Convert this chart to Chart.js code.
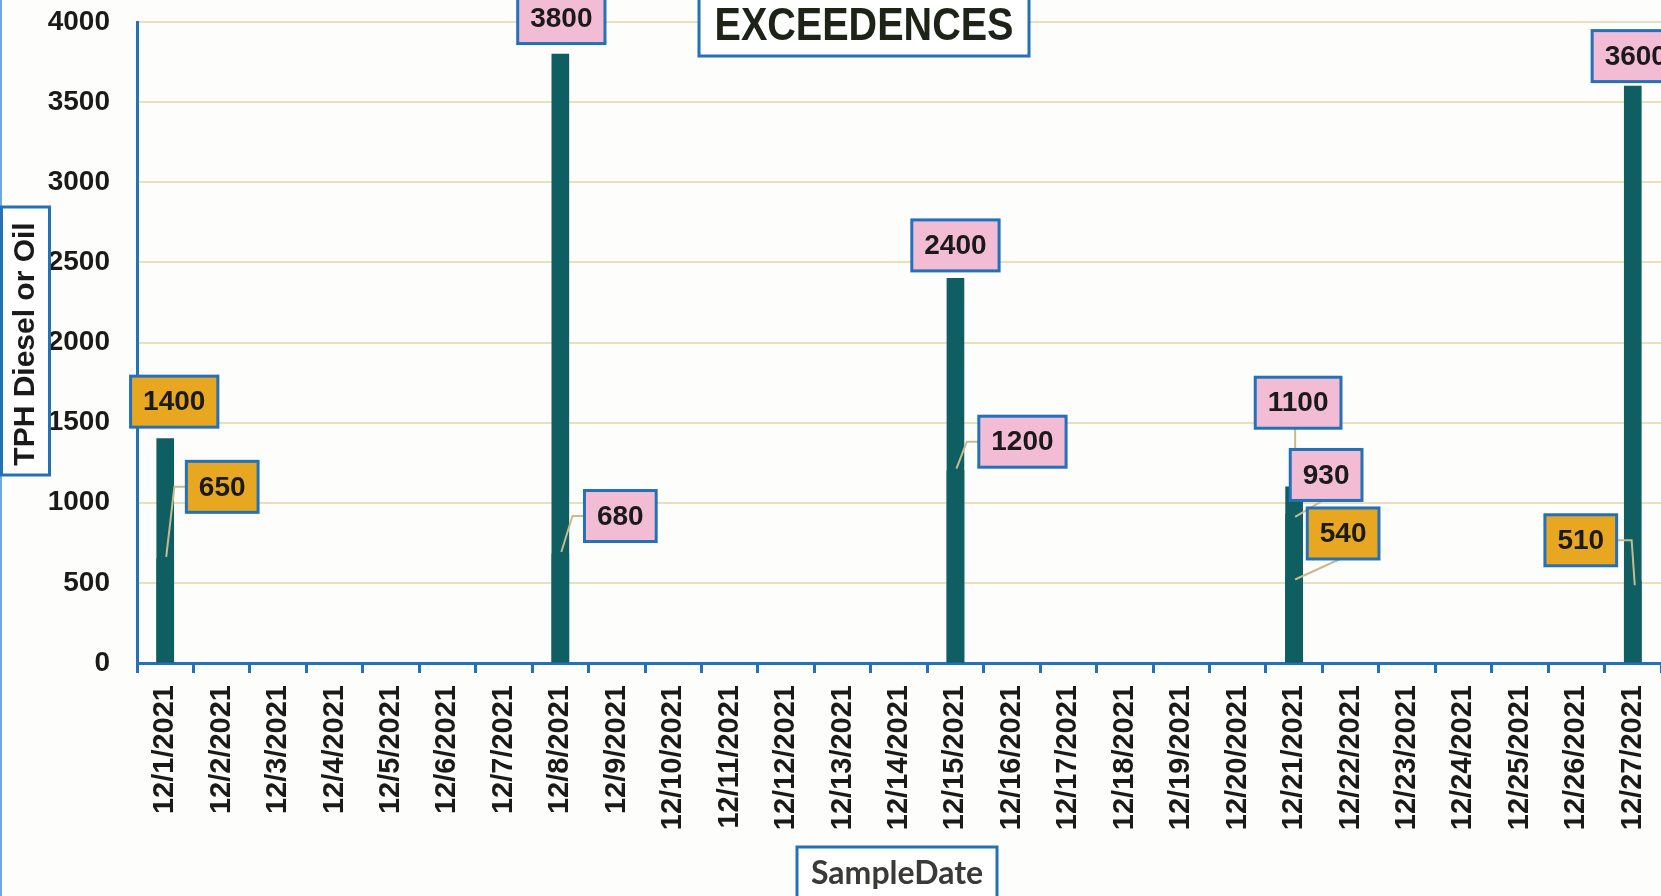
<!DOCTYPE html>
<html>
<head>
<meta charset="utf-8">
<title>EXCEEDENCES</title>
<script src="https://cdn.jsdelivr.net/npm/chart.js@4.4.1/dist/chart.umd.min.js"></script>
<style>
  html, body { margin: 0; padding: 0; background: #fdfdfc; overflow: hidden; }
  #wrap { position: relative; width: 1661px; height: 896px; }
</style>
</head>
<body>
<div id="wrap"><canvas id="chart" width="1661" height="896"></canvas></div>
<script>
// Category axis: one slot per calendar day
const sampleDates = [
  '12/1/2021', '12/2/2021', '12/3/2021', '12/4/2021', '12/5/2021', '12/6/2021',
  '12/7/2021', '12/8/2021', '12/9/2021', '12/10/2021', '12/11/2021', '12/12/2021',
  '12/13/2021', '12/14/2021', '12/15/2021', '12/16/2021', '12/17/2021', '12/18/2021',
  '12/19/2021', '12/20/2021', '12/21/2021', '12/22/2021', '12/23/2021', '12/24/2021',
  '12/25/2021', '12/26/2021', '12/27/2021'
];

// Value axis ticks
const yTicks = [0, 500, 1000, 1500, 2000, 2500, 3000, 3500, 4000];

// TPH Diesel results above the limit
const dieselDates  = ['12/1/2021', '12/1/2021', '12/21/2021', '12/27/2021'];
const dieselValues = [1400, 650, 540, 510];

// TPH Oil results above the limit
const oilDates  = ['12/8/2021', '12/8/2021', '12/15/2021', '12/15/2021', '12/21/2021', '12/21/2021', '12/27/2021'];
const oilValues = [3800, 680, 2400, 1200, 1100, 930, 3600];

const chartTitle = 'EXCEEDENCES';
const yTitle = 'TPH Diesel or Oil';
const xTitle = 'SampleDate';

// Callout placement (pixel offset of the label box centre from the bar top)
const dieselCallouts = [
  { dx: 9,   dy: -37 },
  { dx: 57,  dy: -72, leader: 'left' },
  { dx: 49,  dy: -43, leader: 'bottom' },
  { dx: -52, dy: -41, leader: 'right' }
];
const oilCallouts = [
  { dx: 1,  dy: -36 },
  { dx: 60, dy: -38, leader: 'left' },
  { dx: 0,  dy: -33 },
  { dx: 67, dy: -29, leader: 'left' },
  { dx: 4,  dy: -84, leader: 'bottom' },
  { dx: 32, dy: -39, leader: 'bottom' },
  { dx: 3,  dy: -30 }
];

const BLUE = '#2571b8';
const BAR = '#0e5e62';
const INK = '#1a1a1a';

function points(dates, values) {
  return dates.map((d, i) => ({ x: d, y: values[i] }));
}

// Value callouts with leader lines, drawn over the bars
const calloutPlugin = {
  id: 'callouts',
  afterDatasetsDraw(chart) {
    const ctx = chart.ctx;
    const boxes = [];
    ctx.save();
    ctx.font = 'bold 28px "Liberation Sans"';
    chart.data.datasets.forEach((ds, di) => {
      const meta = chart.getDatasetMeta(di);
      meta.data.forEach((bar, i) => {
        const lay = ds.callouts[i];
        const text = String(ds.data[i].y);
        const w = ctx.measureText(text).width + 25;
        const h = 51;
        const cx = bar.x + lay.dx;
        const cy = bar.y + lay.dy;
        boxes.push({ text, w, h, cx, cy, ax: bar.x, ay: bar.y, leader: lay.leader, fill: ds.calloutFill });
      });
    });
    // leader lines first so that boxes sit on top of them
    ctx.strokeStyle = '#c9b98c';
    ctx.lineWidth = 2;
    boxes.forEach(b => {
      if (!b.leader) return;
      const l = b.cx - b.w / 2, r = b.cx + b.w / 2, bot = b.cy + b.h / 2;
      ctx.beginPath();
      if (b.leader === 'left') {
        ctx.moveTo(l, b.cy); ctx.lineTo(l - 12, b.cy); ctx.lineTo(b.ax + 1, b.ay - 2);
      } else if (b.leader === 'right') {
        ctx.moveTo(r, b.cy); ctx.lineTo(r + 15, b.cy); ctx.lineTo(b.ax + 2, b.ay + 4);
      } else {
        ctx.moveTo(b.cx - 3, bot); ctx.lineTo(b.ax + 1, b.ay + 3);
      }
      ctx.stroke();
    });
    boxes.forEach(b => {
      const x = b.cx - b.w / 2, y = b.cy - b.h / 2;
      ctx.fillStyle = b.fill;
      ctx.fillRect(x, y, b.w, b.h);
      ctx.strokeStyle = BLUE;
      ctx.lineWidth = 3;
      ctx.strokeRect(x, y, b.w, b.h);
      ctx.fillStyle = INK;
      ctx.textAlign = 'center';
      ctx.textBaseline = 'middle';
      ctx.fillText(b.text, b.cx, b.cy + 1);
    });
    ctx.restore();
  }
};

// Framed chart title and axis titles
const framePlugin = {
  id: 'frames',
  afterDraw(chart) {
    const ctx = chart.ctx;
    ctx.save();
    // left page edge
    ctx.strokeStyle = '#6fa8de';
    ctx.lineWidth = 2;
    ctx.beginPath(); ctx.moveTo(1, 0); ctx.lineTo(1, 896); ctx.stroke();

    // chart title
    ctx.fillStyle = '#ffffff';
    ctx.fillRect(699, -6, 330, 62);
    ctx.strokeStyle = BLUE; ctx.lineWidth = 3;
    ctx.strokeRect(699, -6, 330, 62);
    ctx.save();
    ctx.translate(864, 40);
    ctx.scale(0.86, 1);
    ctx.font = 'bold 46px "Liberation Sans"';
    ctx.fillStyle = '#1d2317';
    ctx.textAlign = 'center';
    ctx.textBaseline = 'alphabetic';
    ctx.fillText(chartTitle, 0, 0);
    ctx.restore();

    // y axis title
    ctx.fillStyle = '#ffffff';
    ctx.fillRect(1.5, 207, 48, 268);
    ctx.strokeStyle = BLUE; ctx.lineWidth = 3;
    ctx.strokeRect(1.5, 207, 48, 268);
    ctx.save();
    ctx.translate(26, 344);
    ctx.rotate(-Math.PI / 2);
    ctx.font = 'bold 30px "Liberation Sans"';
    ctx.fillStyle = INK;
    ctx.textAlign = 'center';
    ctx.textBaseline = 'middle';
    ctx.fillText(yTitle, 0, 0);
    ctx.restore();

    // x axis title
    ctx.fillStyle = '#ffffff';
    ctx.fillRect(797, 847, 200, 56);
    ctx.strokeStyle = BLUE; ctx.lineWidth = 3;
    ctx.strokeRect(797, 847, 200, 56);
    ctx.font = 'bold 32px Lato';
    ctx.fillStyle = '#3a3a36';
    ctx.textAlign = 'center';
    ctx.textBaseline = 'alphabetic';
    ctx.fillText(xTitle, 897, 884);
    ctx.restore();
  }
};

new Chart(document.getElementById('chart'), {
  type: 'bar',
  data: {
    labels: sampleDates,
    datasets: [
      {
        label: 'TPH Diesel',
        data: points(dieselDates, dieselValues),
        backgroundColor: BAR,
        calloutFill: '#e8a721',
        callouts: dieselCallouts
      },
      {
        label: 'TPH Oil',
        data: points(oilDates, oilValues),
        backgroundColor: BAR,
        calloutFill: '#f2bcd4',
        callouts: oilCallouts
      }
    ]
  },
  options: {
    responsive: false,
    animation: false,
    events: [],
    layout: { padding: { top: 22, left: 0, right: 0, bottom: 0 } },
    datasets: { bar: { grouped: false, barThickness: 17 } },
    plugins: {
      legend: { display: false },
      title: { display: false },
      tooltip: { enabled: false }
    },
    scales: {
      x: {
        offset: true,
        afterFit(scale) {
          scale.height = 233;
          scale.paddingLeft = 0;
          scale.paddingRight = 0;
        },
        grid: {
          offset: true,
          drawOnChartArea: false,
          drawTicks: true,
          tickLength: 10,
          tickColor: BLUE,
          tickWidth: 3
        },
        border: { display: true, color: BLUE, width: 3 },
        ticks: {
          autoSkip: false,
          minRotation: 90,
          maxRotation: 90,
          padding: 12,
          color: INK,
          font: { family: '"Liberation Sans"', size: 29, weight: 'bold' }
        }
      },
      y: {
        min: 0,
        max: 4000,
        afterFit(scale) {
          scale.width = 137;
          scale.paddingTop = 0;
          scale.paddingBottom = 0;
        },
        afterBuildTicks(scale) { scale.ticks = yTicks.map(v => ({ value: v })); },
        grid: { color: '#e7e0bd', lineWidth: 2, drawTicks: false },
        border: { display: true, color: BLUE, width: 3 },
        ticks: {
          padding: 27,
          color: INK,
          font: { family: '"Liberation Sans"', size: 28, weight: 'bold' },
          callback: v => String(v)
        }
      }
    }
  },
  plugins: [calloutPlugin, framePlugin]
});
</script>
</body>
</html>
